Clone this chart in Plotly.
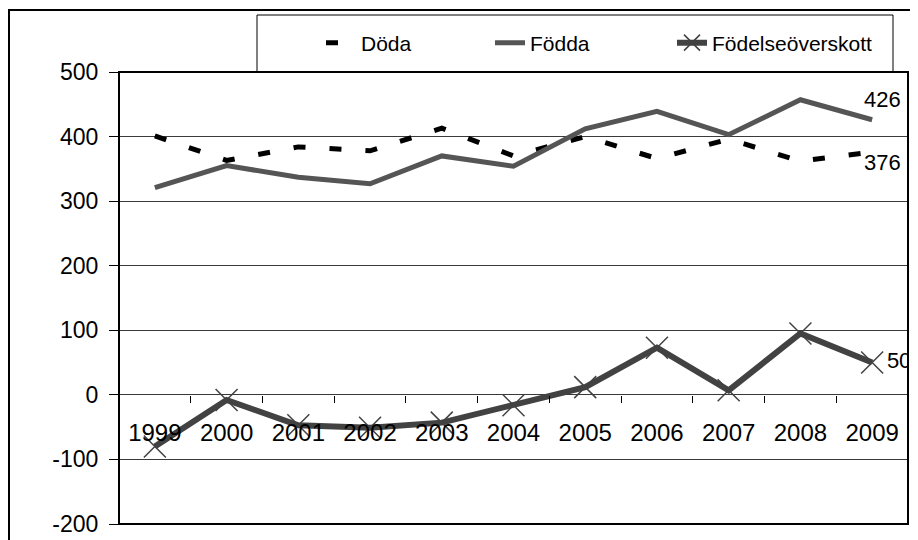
import plotly.graph_objects as go

# values
years = ["1999", "2000", "2001", "2002", "2003", "2004", "2005", "2006", "2007", "2008", "2009"]
doda = [401, 363, 384, 378, 413, 370, 400, 366, 396, 362, 376]
fodda = [321, 355, 337, 327, 370, 354, 412, 439, 403, 457, 426]
overskott = [-80, -8, -47, -51, -43, -16, 12, 73, 7, 95, 50]
y_ticks = [-200, -100, 0, 100, 200, 300, 400, 500]

FONT = "Arial, Liberation Sans, sans-serif"
OFF = 8  # the page body margin shifts the figure by 8 px
W, H = 918 - OFF, 540 - OFF
L, R, T, B = 119 - OFF, 10, 72 - OFF, 16
PW, PH = W - L - R, H - T - B


def px(x):
    # screen x -> paper fraction
    return (x - OFF - L) / PW


def py(y):
    # screen y -> paper fraction
    return (H - B - (y - OFF)) / PH


fig = go.Figure()
fig.add_trace(go.Scatter(
    x=years, y=doda, name="Döda", mode="lines", legendwidth=124,
    line=dict(color="#000000", width=5, dash="12px,24px"),
))
fig.add_trace(go.Scatter(
    x=years, y=fodda, name="Födda", mode="lines", legendwidth=137,
    line=dict(color="#555555", width=5),
))
fig.add_trace(go.Scatter(
    x=years, y=overskott, name="Födelseöverskott", mode="lines+markers+text",
    legendwidth=170,
    line=dict(color="#424242", width=6),
    marker=dict(symbol="x-thin", size=22, color="#424242",
                line=dict(color="#424242", width=1.5)),
    text=[""] * (len(years) - 1) + [str(overskott[-1])],
    textposition="middle right",
    textfont=dict(family=FONT, size=22, color="#000000"),
    cliponaxis=True,
))

# value labels at the end of the two upper series
last = len(years) - 1
fig.add_annotation(x=last, y=fodda[-1], text=str(fodda[-1]), showarrow=False,
                   xshift=10, yshift=20, font=dict(family=FONT, size=22, color="#000000"))
fig.add_annotation(x=last, y=doda[-1], text=str(doda[-1]), showarrow=False,
                   xshift=10, yshift=-10, font=dict(family=FONT, size=22, color="#000000"))

# outer chart frame, legend box and plot-area frame
fig.add_shape(type="rect", xref="paper", yref="paper",
              x0=px(9), y0=py(10), x1=px(940), y1=py(570),
              line=dict(color="#000000", width=2), layer="above")
fig.add_shape(type="rect", xref="paper", yref="paper",
              x0=px(257), y0=py(15), x1=px(893), y1=py(72),
              line=dict(color="#000000", width=1), layer="above")
fig.add_shape(type="rect", xref="paper", yref="paper",
              x0=0, y0=0, x1=1, y1=1,
              line=dict(color="#000000", width=2), layer="above")

fig.update_layout(
    width=W, height=H,
    margin=dict(l=L, r=R, t=T, b=B, autoexpand=False),
    paper_bgcolor="#ffffff", plot_bgcolor="#ffffff",
    font=dict(family=FONT, size=22, color="#000000"),
    showlegend=True,
    legend=dict(
        orientation="h", x=px(321), xanchor="left", y=py(43), yanchor="middle",
        bgcolor="rgba(0,0,0,0)", borderwidth=0,
        font=dict(family=FONT, size=21, color="#000000"),
    ),
    xaxis=dict(
        type="category", range=[-0.5, len(years) - 0.5], autorange=False,
        anchor="free", position=200 / 700,
        showgrid=False, zeroline=False, showline=False,
        ticks="outside", tickson="boundaries", ticklen=7, tickcolor="#000000",
        tickfont=dict(family=FONT, size=24, color="#000000"),
        tickangle=0, ticklabelstandoff=21,
    ),
    yaxis=dict(
        range=[-200, 500], autorange=False,
        tickmode="array", tickvals=y_ticks, ticktext=[str(v) for v in y_ticks],
        showgrid=True, gridcolor="#3a3a3a", gridwidth=1,
        zeroline=False, showline=True, linecolor="#000000", linewidth=1,
        ticks="outside", ticklen=9, tickcolor="#000000",
        tickfont=dict(family=FONT, size=23, color="#000000"),
        ticklabelstandoff=6,
    ),
)

fig.write_html("out.html")
